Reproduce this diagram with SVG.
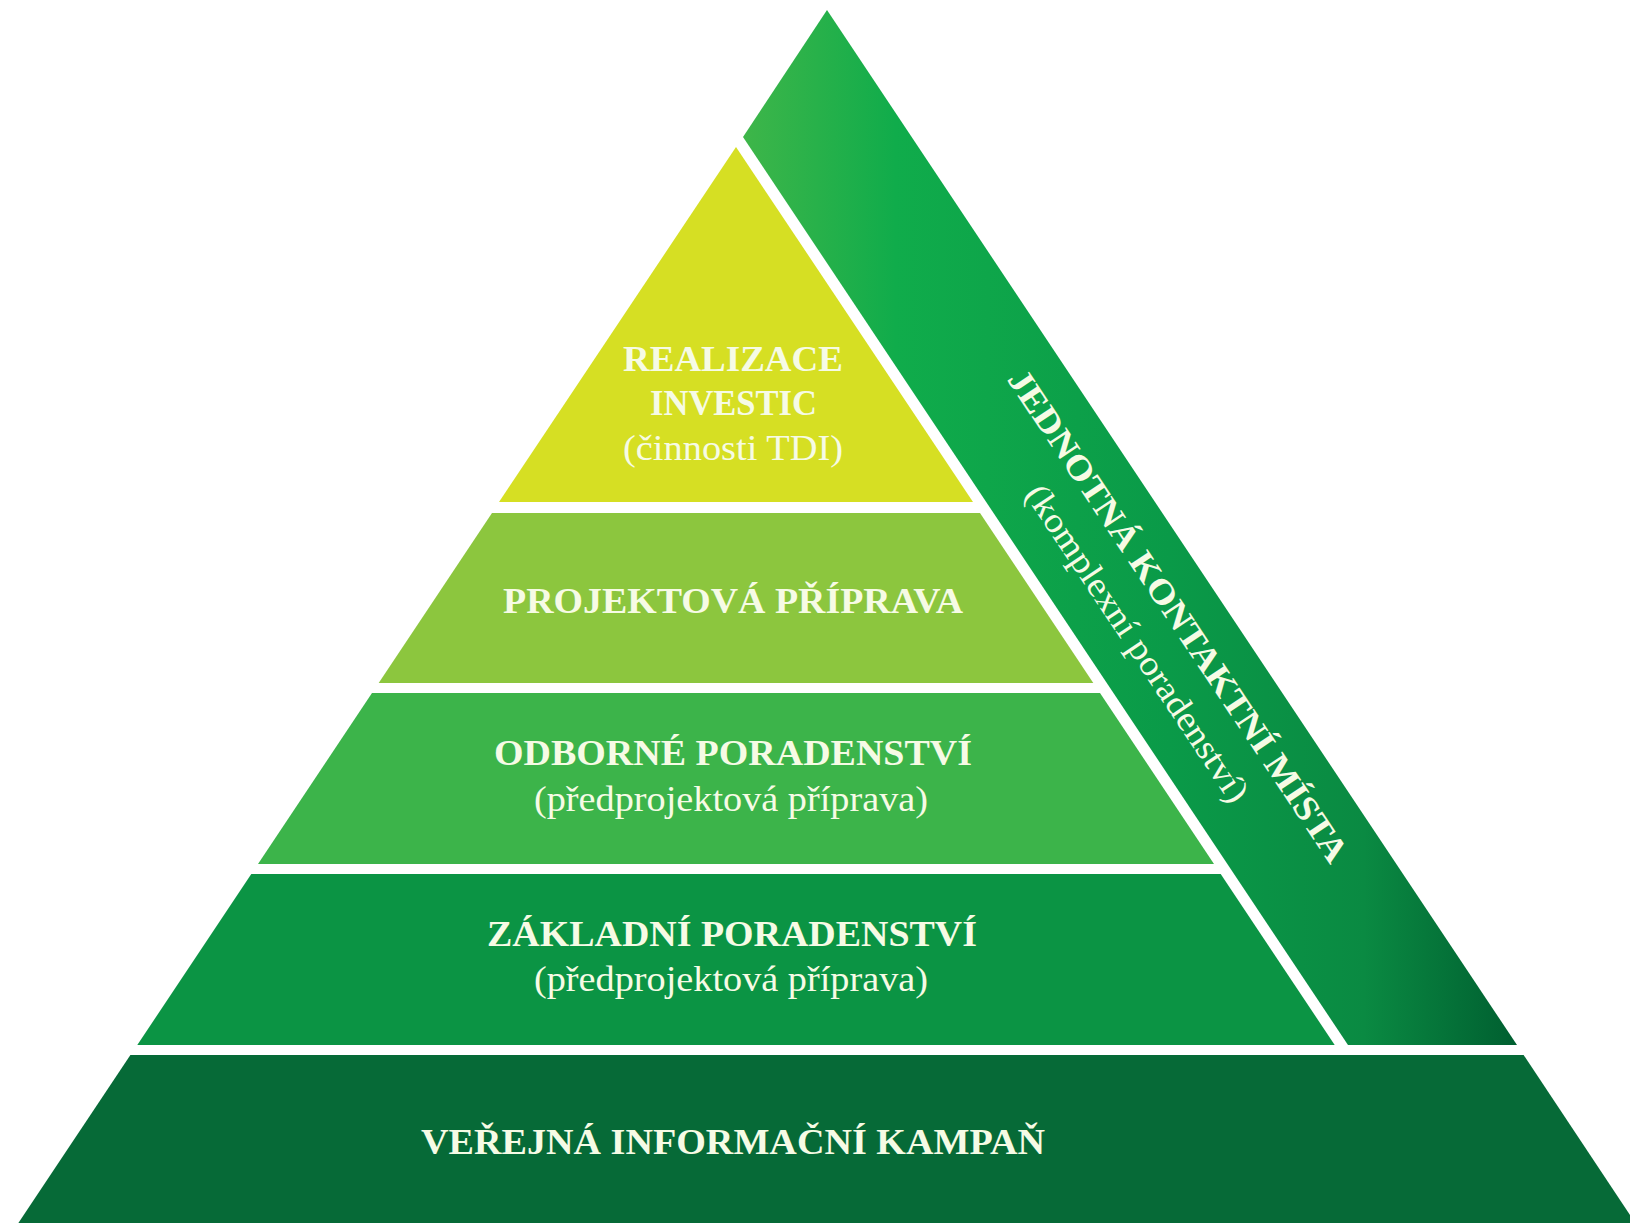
<svg xmlns="http://www.w3.org/2000/svg" width="1630" height="1223" viewBox="0 0 1630 1223">
  <style>
    .t { font-family: "Liberation Serif", "Times New Roman", serif; font-size: 35px; fill: #f6fbe5; }
    .b { font-weight: bold; }
  </style>
  <defs>
    <linearGradient id="stripGrad" gradientUnits="userSpaceOnUse" x1="740" y1="0" x2="1520" y2="0">
      <stop offset="0" stop-color="#3fb649"/>
      <stop offset="0.2" stop-color="#10ac4b"/>
      <stop offset="0.55" stop-color="#0a9a48"/>
      <stop offset="0.8" stop-color="#0a8a42"/>
      <stop offset="1" stop-color="#005e30"/>
    </linearGradient>
  </defs>
  <rect x="0" y="0" width="1630" height="1223" fill="#ffffff"/>

  <g id="kontaktni-mista">
    <polygon points="827,10 1517,1045 1348,1045 743,137" fill="url(#stripGrad)"/>
    <text class="t b" transform="translate(1168.5,622.3) rotate(56.31)" x="-292" y="0" textLength="584" lengthAdjust="spacingAndGlyphs">JEDNOTNÁ KONTAKTNÍ MÍSTA</text>
    <text class="t" transform="translate(1127.7,649.6) rotate(56.31)" x="-187" y="0" textLength="374" lengthAdjust="spacingAndGlyphs">(komplexní poradenství)</text>
  </g>

  <g id="realizace-investic">
    <polygon points="736,147 973,502 499,502" fill="#d6df23"/>
    <text class="t b" x="623" y="371" textLength="220" lengthAdjust="spacingAndGlyphs">REALIZACE</text>
    <text class="t b" x="650" y="415" textLength="167" lengthAdjust="spacingAndGlyphs">INVESTIC</text>
    <text class="t" x="623" y="460" textLength="220" lengthAdjust="spacingAndGlyphs">(činnosti TDI)</text>
  </g>

  <g id="projektova-priprava">
    <polygon points="492,513 980,513 1093.3,683 378.7,683" fill="#8cc63e"/>
    <text class="t b" x="503" y="613" textLength="460" lengthAdjust="spacingAndGlyphs">PROJEKTOVÁ PŘÍPRAVA</text>
  </g>

  <g id="odborne-poradenstvi">
    <polygon points="372,693 1100,693 1214,864 258,864" fill="#3cb44a"/>
    <text class="t b" x="494" y="765" textLength="478" lengthAdjust="spacingAndGlyphs">ODBORNÉ PORADENSTVÍ</text>
    <text class="t" x="534" y="811" textLength="394" lengthAdjust="spacingAndGlyphs">(předprojektová příprava)</text>
  </g>

  <g id="zakladni-poradenstvi">
    <polygon points="251.3,874 1220.7,874 1334.7,1045 137.3,1045" fill="#0b9444"/>
    <text class="t b" x="487" y="946" textLength="490" lengthAdjust="spacingAndGlyphs">ZÁKLADNÍ PORADENSTVÍ</text>
    <text class="t" x="534" y="991" textLength="394" lengthAdjust="spacingAndGlyphs">(předprojektová příprava)</text>
  </g>

  <g id="verejna-kampan">
    <polygon points="130.4,1055 1523.6,1055 1640,1230 13.7,1230" fill="#066a37"/>
    <text class="t b" x="421" y="1154" textLength="624" lengthAdjust="spacingAndGlyphs">VEŘEJNÁ INFORMAČNÍ KAMPAŇ</text>
  </g>
</svg>
